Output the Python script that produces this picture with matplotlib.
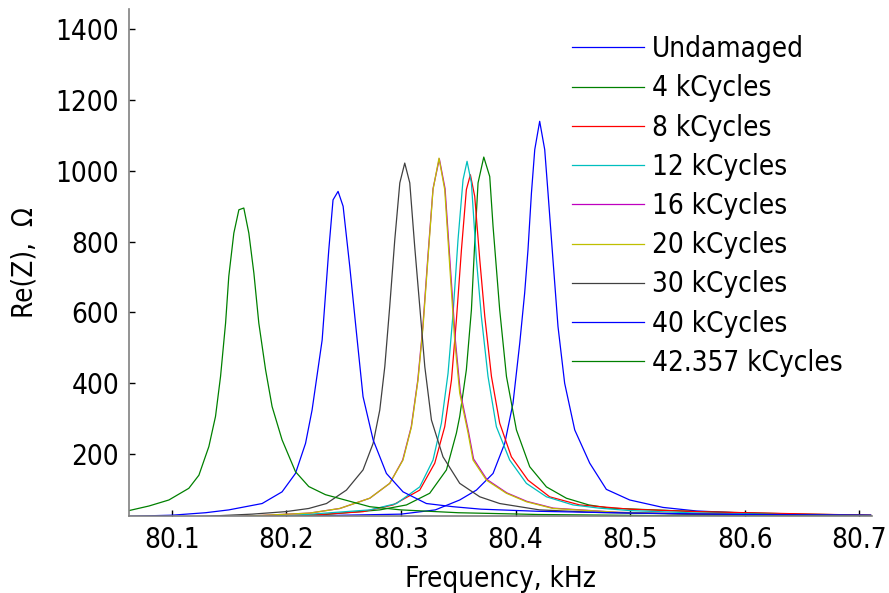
import matplotlib
matplotlib.use("Agg")
import matplotlib.pyplot as plt
from matplotlib import font_manager

# Re(Z) resonance peaks (frequency in kHz, Re(Z) in Ohm)
labels = ["Undamaged", "4 kCycles", "8 kCycles", "12 kCycles", "16 kCycles",
          "20 kCycles", "30 kCycles", "40 kCycles", "42.357 kCycles"]

f_undamaged = [80.063, 80.20, 80.30, 80.33, 80.3513, 80.3659, 80.3804, 80.3906, 80.3978,
               80.4037, 80.4080, 80.4109, 80.4139, 80.4168, 80.4211, 80.4255, 80.4284,
               80.4327, 80.4371, 80.4429, 80.4517, 80.4648, 80.4793, 80.4997, 80.5287,
               80.5578, 80.5928, 80.6422, 80.665]
z_undamaged = [20, 24, 30, 42, 70, 98, 145, 230, 343, 513, 655, 777, 937, 1060, 1140, 1060,
               937, 749, 560, 400, 268, 174, 100, 70, 49, 39, 34, 27, 26]

f_4k = [80.063, 80.23, 80.2815, 80.3048, 80.3251, 80.3397, 80.3484, 80.3513, 80.3571,
        80.3615, 80.3644, 80.3673, 80.3723, 80.3775, 80.3804, 80.3862, 80.3921, 80.4008,
        80.4124, 80.4270, 80.4444, 80.4640, 80.4820, 80.5600, 80.6500, 80.7100]
z_4k = [15, 28, 42, 56, 89, 155, 259, 306, 438, 607, 796, 966, 1039, 984, 843, 607, 419,
        268, 164, 107, 75, 56, 47, 37, 30, 27]

f_8k = [80.063, 80.22, 80.2669, 80.2931, 80.3164, 80.3295, 80.3382, 80.3441, 80.3484,
        80.3528, 80.3571, 80.3606, 80.3644, 80.3688, 80.3732, 80.3790, 80.3862, 80.3964,
        80.4109, 80.4298, 80.4560, 80.4997, 80.5600, 80.6600, 80.7100]
z_8k = [15, 27, 37, 56, 98, 174, 277, 409, 579, 777, 947, 989, 928, 749, 588, 419, 287,
        192, 126, 79, 56, 44, 37, 30, 27]

f_12k = [80.063, 80.20, 80.2728, 80.2961, 80.3164, 80.3280, 80.3353, 80.3411, 80.3455,
         80.3498, 80.3542, 80.3577, 80.3615, 80.3659, 80.3702, 80.3760, 80.3833, 80.3949,
         80.4095, 80.4270, 80.4502, 80.4730, 80.5000, 80.5600, 80.6500, 80.7100]
z_12k = [15, 25, 42, 60, 107, 183, 287, 428, 598, 805, 975, 1027, 966, 749, 588, 419, 277,
         183, 117, 79, 56, 47, 40, 33, 28, 26]

f_16k = [80.063, 80.15, 80.2204, 80.2466, 80.2728, 80.2902, 80.3015, 80.3090, 80.3147,
         80.3191, 80.3235, 80.3280, 80.3335, 80.3385, 80.3430, 80.3474, 80.3518, 80.3590,
         80.3634, 80.3750, 80.3925, 80.4100, 80.4330, 80.4900, 80.5600, 80.6500, 80.7100]
z_16k = [15, 22, 33, 46, 75, 117, 183, 277, 409, 560, 758, 950, 1034, 950, 735, 525, 375,
         262, 186, 128, 90, 66, 47, 35, 30, 27, 25]

f_20k = [80.063, 80.15, 80.2204, 80.2466, 80.2728, 80.2902, 80.3018, 80.3092, 80.3149,
         80.3193, 80.3237, 80.3280, 80.3332, 80.3382, 80.3426, 80.3469, 80.3513, 80.3586,
         80.3629, 80.3746, 80.3920, 80.4095, 80.4327, 80.4900, 80.5600, 80.6500, 80.7100]
z_20k = [15, 22, 33, 46, 75, 117, 183, 277, 409, 560, 758, 947, 1036, 947, 730, 522, 372,
         259, 183, 126, 89, 65, 46, 35, 30, 27, 25]

f_30k = [80.063, 80.13, 80.170, 80.1992, 80.2195, 80.2350, 80.2524, 80.2669, 80.2757,
         80.2815, 80.2859, 80.2902, 80.2946, 80.2990, 80.3033, 80.3077, 80.3120, 80.3164,
         80.3208, 80.3266, 80.3367, 80.3513, 80.3688, 80.3862, 80.4210, 80.4700, 80.5500,
         80.7100]
z_30k = [18, 24, 30, 37, 46, 60, 98, 155, 230, 324, 447, 617, 805, 966, 1022, 966, 786,
         617, 447, 296, 192, 117, 79, 60, 42, 35, 30, 26]

f_40k = [80.063, 80.10, 80.1294, 80.1497, 80.1788, 80.1962, 80.2079, 80.2167, 80.2224,
         80.2312, 80.2370, 80.2407, 80.2451, 80.2495, 80.2553, 80.2612, 80.2669, 80.2757,
         80.2873, 80.3018, 80.3222, 80.3455, 80.3700, 80.4200, 80.5000, 80.6000, 80.7100]
z_40k = [24, 27, 34, 42, 60, 93, 145, 230, 324, 522, 777, 918, 942, 900, 730, 541, 362,
         240, 145, 93, 60, 51, 44, 38, 33, 29, 27]

f_42k = [80.0625, 80.0800, 80.0974, 80.1148, 80.1236, 80.1323, 80.1381, 80.1425, 80.1469,
         80.1497, 80.1541, 80.1585, 80.1628, 80.1672, 80.1716, 80.1759, 80.1818, 80.1875,
         80.1962, 80.2079, 80.2195, 80.2341, 80.2728, 80.3000, 80.3500, 80.4200, 80.5200,
         80.7100]
z_42k = [40, 53, 70, 103, 140, 221, 306, 419, 570, 702, 824, 890, 895, 824, 711, 570, 438,
         334, 240, 150, 108, 85, 51, 42, 34, 29, 26, 24]

freqs = [f_undamaged, f_4k, f_8k, f_12k, f_16k, f_20k, f_30k, f_40k, f_42k]
reals = [z_undamaged, z_4k, z_8k, z_12k, z_16k, z_20k, z_30k, z_40k, z_42k]

# old MATLAB line colour order, cycling after the 7th line
colors = [(0, 0, 1), (0, 0.5, 0), (1, 0, 0), (0, 0.75, 0.75), (0.75, 0, 0.75),
          (0.75, 0.75, 0), (0.25, 0.25, 0.25), (0, 0, 1), (0, 0.5, 0)]

# Tahoma-like narrow face if the condensed DejaVu is there, else Arial metrics
cond = [f for f in font_manager.fontManager.ttflist
        if f.fname.endswith('DejaVuSansCondensed.ttf')]
if cond:
    plt.rcParams['font.family'] = [cond[0].name]
    plt.rcParams['font.stretch'] = cond[0].stretch
else:
    plt.rcParams['font.family'] = ['Liberation Sans', 'DejaVu Sans']
plt.rcParams['font.size'] = 20

fig = plt.figure(figsize=(8.89, 5.93), dpi=100)
ax = fig.add_axes([0.145, 0.130, 0.8356, 0.854])

for f, z, c, lab in zip(freqs, reals, colors, labels):
    ax.plot(f, z, color=c, lw=0.9, label=lab)

ax.set_xlim(80.0625, 80.711)
ax.set_ylim(25, 1456)
ax.set_xticks([80.1, 80.2, 80.3, 80.4, 80.5, 80.6, 80.7])
ax.set_yticks([200, 400, 600, 800, 1000, 1200, 1400])

for side in ['top', 'right']:
    ax.spines[side].set_visible(False)
for side in ['left', 'bottom']:
    ax.spines[side].set_color('#808080')
    ax.spines[side].set_linewidth(1.2)
ax.tick_params(direction='in', length=4, width=1, colors='black', pad=7)

ax.set_xlabel('Frequency, kHz', labelpad=8)
ax.set_ylabel('Re(Z),  Ω', labelpad=12)

ax.legend(loc='upper left', bbox_to_anchor=(571.7 / 889, 1 - 35 / 593),
          bbox_transform=fig.transFigure, frameon=False, borderpad=0,
          borderaxespad=0, handlelength=2.6, handletextpad=0.3,
          labelspacing=0.405)

fig.savefig('out.png', dpi=100)
